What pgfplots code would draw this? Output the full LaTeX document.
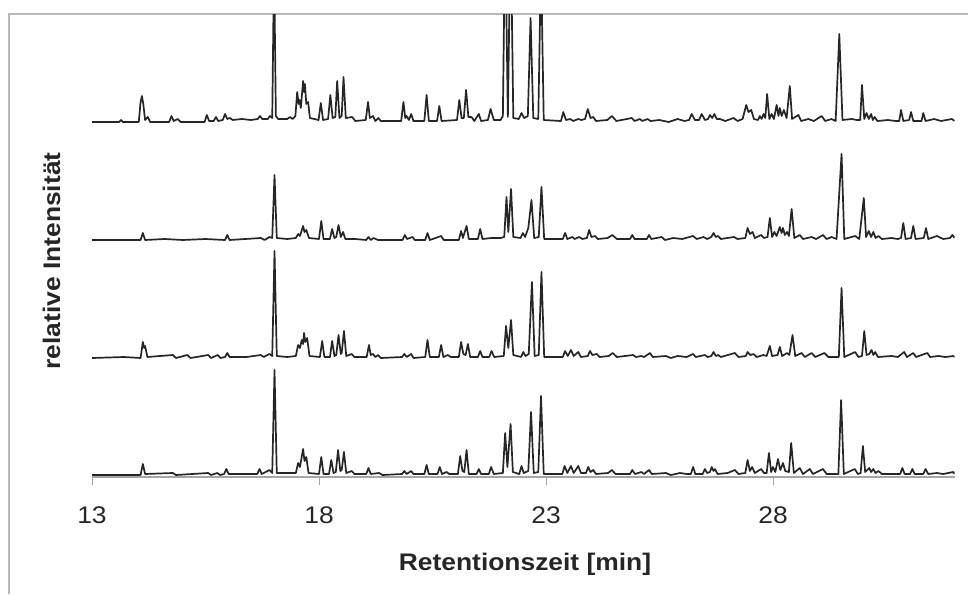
\documentclass[border=0pt]{standalone}
\usepackage{fontspec}
\setmainfont{Liberation Sans}[FakeStretch=1.1]
\usepackage{pgfplots}
\pgfplotsset{compat=1.18}
\usepackage{pgfplotstable}
\pgfplotstableread{
t h
13.00 0
13.60 0
13.64 2
13.68 0
14.03 0
14.07 20
14.10 26
14.13 18
14.17 2
14.23 5
14.28 0
14.70 0
14.75 6
14.80 1
14.89 3
14.95 0
15.48 0
15.53 7
15.58 1
15.68 1
15.73 5
15.78 1
15.88 2
15.93 8
15.98 3
16.04 4
16.10 2
16.30 3
16.50 2
16.65 3
16.70 6
16.75 3
16.87 3
16.92 6
16.97 4
17.01 160
17.05 6
17.10 3
17.30 3
17.36 5
17.42 3
17.48 6
17.52 30
17.55 18
17.57 22
17.60 14
17.65 41
17.67 30
17.69 38
17.72 18
17.76 20
17.80 4
17.99 2
18.04 19
18.09 2
18.20 3
18.25 27
18.30 4
18.36 5
18.40 41
18.45 4
18.50 6
18.54 45
18.59 4
18.73 5
18.80 1
19.03 2
19.08 20
19.12 4
19.19 6
19.24 1
19.31 4
19.36 1
19.81 1
19.86 20
19.90 4
19.93 6
19.98 2
20.03 8
20.08 1
20.32 1
20.37 27
20.42 1
20.60 1
20.65 16
20.70 1
21.04 2
21.09 22
21.14 4
21.19 4
21.24 32
21.29 5
21.36 5
21.42 1
21.52 8
21.57 1
21.72 2
21.78 13
21.85 2
22.00 2
22.05 6
22.10 200
22.16 5
22.22 200
22.28 4
22.40 3
22.46 9
22.52 4
22.60 6
22.66 104
22.72 4
22.83 3
22.89 160
22.95 2
23.33 1
23.38 10
23.44 2
23.53 3
23.60 1
23.71 3
23.78 2
23.86 3
23.92 13
23.98 4
24.04 5
24.10 1
24.35 2
24.45 6
24.55 1
24.89 4
24.95 1
25.07 3
25.12 1
25.24 3
25.30 1
25.50 2
25.70 0
25.90 3
26.05 1
26.15 2
26.21 8
26.28 2
26.37 2
26.43 8
26.50 2
26.57 3
26.61 7
26.66 4
26.71 8
26.76 3
26.83 3
26.95 1
27.13 4
27.22 1
27.33 3
27.41 17
27.46 10
27.52 12
27.58 3
27.67 2
27.71 6
27.75 3
27.79 8
27.83 4
27.87 28
27.92 3
27.97 8
28.02 3
28.08 17
28.12 6
28.15 14
28.19 6
28.24 12
28.30 4
28.37 36
28.42 3
28.56 7
28.62 1
28.78 3
28.90 1
29.07 6
29.15 1
29.29 3
29.38 1
29.46 88
29.53 2
29.73 3
29.85 2
29.92 2
29.96 37
30.01 3
30.06 9
30.11 3
30.16 8
30.20 2
30.24 5
30.30 1
30.53 2
30.70 1
30.78 1
30.82 12
30.87 1
31.00 2
31.04 10
31.09 1
31.27 1
31.31 9
31.36 1
31.55 3
31.70 1
31.94 3
32.00 1
}\traceA
\pgfplotstableread{
t h
13.00 0
13.70 0
14.07 0
14.12 7
14.17 0
14.60 1
15.00 0
15.50 1
15.93 0
15.98 5
16.03 0
16.72 2
16.80 0
16.91 3
16.97 2
17.02 65
17.07 2
17.30 1
17.49 2
17.54 6
17.58 4
17.65 14
17.68 8
17.72 10
17.78 2
18.00 1
18.05 19
18.10 1
18.24 1
18.29 11
18.34 2
18.38 3
18.43 15
18.48 3
18.53 8
18.58 1
18.80 1
19.04 0
19.09 3
19.14 0
19.20 2
19.30 0
19.84 0
19.89 5
19.94 1
20.06 3
20.11 0
20.34 0
20.39 7
20.44 0
20.69 4
20.75 0
21.08 0
21.13 9
21.17 2
21.25 14
21.30 1
21.50 1
21.55 11
21.60 1
21.80 2
22.00 2
22.08 3
22.13 43
22.17 8
22.23 51
22.28 3
22.44 2
22.49 7
22.54 3
22.61 12
22.68 40
22.74 2
22.84 3
22.90 53
22.96 1
23.37 1
23.42 7
23.47 1
23.58 3
23.63 1
23.73 3
23.80 1
23.90 2
23.95 10
24.00 3
24.08 4
24.14 1
24.36 2
24.46 5
24.56 1
24.85 1
24.90 5
24.95 1
25.22 1
25.27 5
25.32 1
25.55 3
25.62 0
25.80 2
26.00 1
26.24 4
26.32 1
26.47 3
26.55 1
26.64 3
26.69 7
26.74 3
26.79 4
26.85 1
27.14 3
27.22 1
27.39 2
27.44 12
27.49 6
27.55 8
27.60 2
27.74 5
27.80 2
27.88 3
27.93 22
27.98 3
28.03 8
28.08 4
28.15 13
28.19 7
28.22 12
28.26 5
28.31 8
28.35 4
28.41 31
28.47 2
28.59 5
28.66 1
28.85 3
28.95 1
29.10 5
29.18 1
29.29 3
29.40 1
29.51 86
29.57 1
29.81 4
29.90 1
30.00 42
30.05 3
30.11 9
30.16 3
30.21 8
30.26 2
30.32 4
30.40 1
30.61 2
30.75 1
30.82 2
30.87 17
30.92 1
31.04 2
31.09 14
31.14 1
31.32 2
31.37 12
31.42 1
31.61 4
31.75 1
31.90 2
31.95 5
32.00 2
}\traceB
\pgfplotstableread{
t h
13.00 0
13.70 1
14.07 0
14.12 16
14.15 10
14.17 12
14.22 1
14.78 3
14.85 0
15.10 3
15.17 0
15.56 3
15.62 0
15.77 3
15.83 0
15.93 1
15.98 5
16.03 1
16.40 1
16.72 3
16.78 1
16.91 4
16.97 2
17.02 107
17.07 2
17.30 1
17.49 2
17.54 13
17.58 10
17.62 18
17.65 14
17.67 25
17.70 16
17.74 20
17.79 2
18.02 1
18.07 17
18.12 1
18.24 1
18.29 17
18.34 2
18.38 3
18.43 23
18.48 4
18.50 5
18.55 27
18.60 2
18.72 4
18.78 1
19.05 1
19.10 13
19.14 3
19.19 4
19.24 1
19.30 3
19.36 0
19.83 1
19.88 4
19.93 1
20.03 4
20.08 0
20.34 1
20.39 18
20.44 1
20.64 1
20.69 13
20.74 1
20.84 3
20.90 1
21.08 1
21.13 16
21.18 4
21.23 3
21.28 14
21.33 1
21.50 1
21.55 7
21.60 1
21.75 1
21.80 7
21.86 1
22.07 2
22.12 32
22.17 10
22.23 38
22.28 3
22.45 1
22.50 6
22.55 2
22.62 4
22.69 76
22.75 2
22.84 3
22.90 86
22.96 1
23.37 1
23.42 7
23.48 2
23.55 8
23.61 2
23.71 6
23.77 1
23.92 2
23.97 7
24.02 3
24.12 4
24.18 1
24.38 2
24.47 5
24.56 1
24.92 3
24.98 1
25.10 2
25.16 1
25.29 5
25.35 1
25.64 2
25.75 0
25.90 2
26.10 1
26.24 4
26.30 1
26.50 3
26.56 1
26.64 2
26.69 6
26.74 2
26.79 3
26.85 1
27.16 5
27.24 1
27.40 2
27.44 6
27.50 3
27.57 4
27.64 1
27.79 3
27.86 2
27.93 12
27.98 2
28.10 3
28.15 11
28.20 2
28.31 5
28.36 3
28.43 23
28.49 2
28.63 5
28.70 1
28.85 5
28.93 1
29.13 5
29.22 1
29.45 1
29.51 70
29.57 1
29.81 6
29.88 1
29.96 2
30.01 27
30.06 3
30.12 4
30.17 8
30.21 3
30.25 6
30.31 1
30.61 2
30.75 1
30.89 6
30.95 1
31.09 5
31.15 1
31.40 5
31.46 1
31.64 2
31.80 1
31.97 2
32.00 1
}\traceC
\pgfplotstableread{
t h
13.00 0
13.80 0
14.07 0
14.12 11
14.17 1
14.78 2
14.85 0
15.56 2
15.62 0
15.76 2
15.82 0
15.91 1
15.96 6
16.01 1
16.40 1
16.64 1
16.69 6
16.74 1
16.91 5
16.97 2
17.02 105
17.07 2
17.30 2
17.49 2
17.54 12
17.58 8
17.65 26
17.68 14
17.72 18
17.77 2
18.00 1
18.05 18
18.10 1
18.22 1
18.27 15
18.32 2
18.37 3
18.42 25
18.47 4
18.50 5
18.55 23
18.60 2
18.72 4
18.78 1
19.04 1
19.09 7
19.14 1
19.32 2
19.40 0
19.83 1
19.88 4
19.93 1
20.03 4
20.08 1
20.32 1
20.37 10
20.42 1
20.61 1
20.66 8
20.71 1
20.81 3
20.87 1
21.06 1
21.11 19
21.16 4
21.20 3
21.25 25
21.30 1
21.47 1
21.52 6
21.57 1
21.74 1
21.79 8
21.85 1
22.05 2
22.10 42
22.15 8
22.22 51
22.27 3
22.41 1
22.46 9
22.51 2
22.61 4
22.67 63
22.73 2
22.83 3
22.89 79
22.95 1
23.36 1
23.41 9
23.47 2
23.55 9
23.61 2
23.71 9
23.77 2
23.88 2
23.93 8
23.98 3
24.04 5
24.10 1
24.37 2
24.45 5
24.53 1
24.85 1
24.90 5
24.96 1
25.10 3
25.16 1
25.27 5
25.33 1
25.64 2
25.75 0
25.95 2
26.10 1
26.19 1
26.24 8
26.29 1
26.45 1
26.50 6
26.55 2
26.61 3
26.65 8
26.69 4
26.72 6
26.78 1
27.00 2
27.16 5
27.24 1
27.39 2
27.44 15
27.49 4
27.54 8
27.60 2
27.74 6
27.80 2
27.86 2
27.91 22
27.96 3
28.00 8
28.05 3
28.11 16
28.16 5
28.22 12
28.27 4
28.35 3
28.40 32
28.46 2
28.59 7
28.66 1
28.81 6
28.88 1
29.10 6
29.18 1
29.44 1
29.50 75
29.56 1
29.80 6
29.87 1
29.93 2
29.98 29
30.03 3
30.12 7
30.16 3
30.21 6
30.26 2
30.32 4
30.40 1
30.60 1
30.80 1
30.85 7
30.90 1
31.02 1
31.07 6
31.12 1
31.31 1
31.36 6
31.42 1
31.61 2
31.75 1
31.97 3
32.00 1
}\traceD
\begin{document}
\begin{tikzpicture}
\useasboundingbox (0pt,0pt) rectangle (968pt,-594pt);
\draw[gray!55, line width=1.3pt] (9pt,-594pt) -- (9pt,-14pt) -- (968pt,-14pt);
\begin{axis}[
  at={(92pt,-477pt)}, anchor=south west,
  scale only axis, width=862.6pt, height=463pt,
  xmin=13, xmax=32, ymin=0, ymax=463,
  axis x line=bottom, axis y line=none,
  x axis line style={-, gray!70, line width=1.2pt},
  xtick={13,18,23,28},
  tick align=outside, major tick length=8pt,
  xtick style={gray!70, line width=1pt},
  /pgf/number format/assume math mode=true,
  xticklabel style={font=\fontsize{24}{24}\selectfont, text=black!85, anchor=base, yshift=-38pt},
]
\addplot[black!85, line width=1.7pt, line join=round] table[x=t, y expr=\thisrow{h}+355] {\traceA};
\addplot[black!85, line width=1.7pt, line join=round] table[x=t, y expr=\thisrow{h}+237] {\traceB};
\addplot[black!85, line width=1.7pt, line join=round] table[x=t, y expr=\thisrow{h}+119] {\traceC};
\addplot[black!85, line width=1.7pt, line join=round] table[x=t, y expr=\thisrow{h}+2] {\traceD};
\end{axis}
\node[font=\bfseries\fontsize{24}{24}\selectfont, text=black!85, anchor=base] at (525pt,-570pt) {Retentionszeit [min]};
\node[font=\bfseries\fontsize{24}{24}\selectfont, text=black!85, anchor=base, rotate=90] at (60pt,-261pt) {relative Intensität};
\end{tikzpicture}
\end{document}
